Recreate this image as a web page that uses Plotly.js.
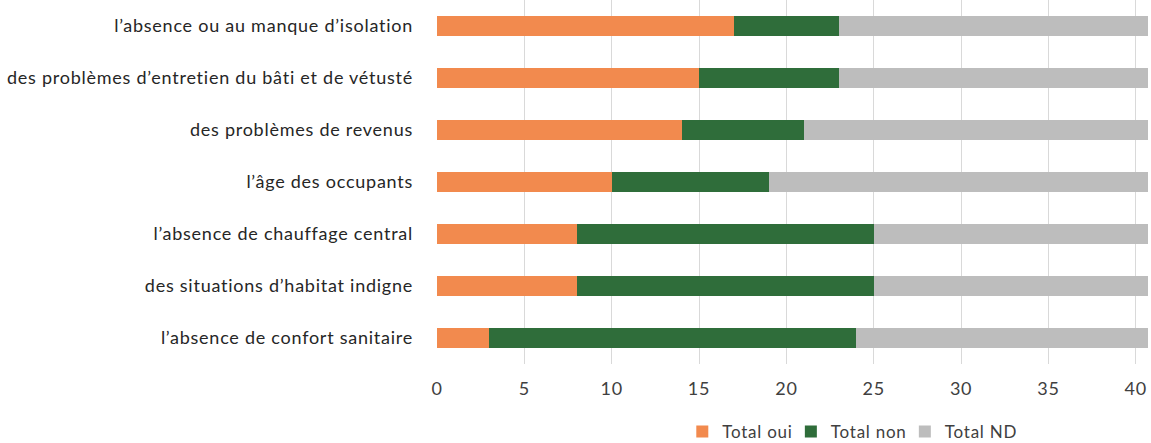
<!DOCTYPE html>
<html>
<head>
<meta charset="utf-8">
<script src="https://cdn.plot.ly/plotly-3.0.1.min.js"></script>
<style>
  html, body { margin: 0; padding: 0; background: #ffffff; }
  #chart { width: 1151px; height: 443px; }
  /* slightly looser tracking for all chart text */
  #chart text { letter-spacing: 0.75px; }
</style>
</head>
<body>
<div id="chart"></div>
<script>
// Causes reported, listed top to bottom
const categories = [
  "l\u2019absence ou au manque d\u2019isolation",
  "des probl\u00e8mes d\u2019entretien du b\u00e2ti et de v\u00e9tust\u00e9",
  "des probl\u00e8mes de revenus",
  "l\u2019\u00e2ge des occupants",
  "l\u2019absence de chauffage central",
  "des situations d\u2019habitat indigne",
  "l\u2019absence de confort sanitaire"
];

// Answer counts per cause
const totalOui = [17, 15, 14, 10, 8, 8, 3];
const totalNon = [6, 8, 7, 9, 17, 17, 21];
const totalND  = [18, 18, 20, 22, 16, 16, 17];

const seriesNames = ["Total oui", "Total non", "Total ND"];
const seriesColors = ["#f28a4e", "#2f6d3a", "#bdbdbd"];
const tickValues = [0, 5, 10, 15, 20, 25, 30, 35, 40];

const font = "Lato, 'Open Sans', sans-serif";

const traces = [totalOui, totalNon, totalND].map((vals, i) => ({
  type: "bar",
  orientation: "h",
  name: seriesNames[i],
  x: vals,
  y: categories,
  marker: { color: seriesColors[i], line: { width: 0 } },
  hoverinfo: "x+name"
}));

const layout = {
  width: 1151,
  height: 443,
  barmode: "stack",
  bargap: 0.615,
  paper_bgcolor: "#ffffff",
  plot_bgcolor: "#ffffff",
  margin: { l: 437, r: 3, t: 0, b: 79, pad: 0, autoexpand: false },
  font: { family: font, size: 18, color: "#404040" },
  xaxis: {
    range: [0, 40.7],
    tickvals: tickValues,
    ticktext: tickValues.map(String),
    showgrid: true,
    gridcolor: "#d9d9d9",
    gridwidth: 1,
    zeroline: false,
    showline: false,
    ticks: "",
    automargin: false,
    ticklabelstandoff: 12,
    tickfont: { family: font, size: 18, color: "#404040" },
    fixedrange: true
  },
  yaxis: {
    autorange: "reversed",
    showgrid: false,
    zeroline: false,
    showline: false,
    ticks: "",
    automargin: false,
    ticklabelstandoff: 23,
    tickfont: { family: font, size: 18, color: "#262626" },
    fixedrange: true
  },
  showlegend: true,
  legend: {
    orientation: "h",
    x: 0.345,
    xanchor: "left",
    y: -0.187,
    yanchor: "middle",
    itemwidth: 30,
    font: { family: font, size: 17, color: "#404040" },
    traceorder: "normal"
  }
};

Plotly.newPlot("chart", traces, layout, { displayModeBar: false, staticPlot: true });
</script>
</body>
</html>
